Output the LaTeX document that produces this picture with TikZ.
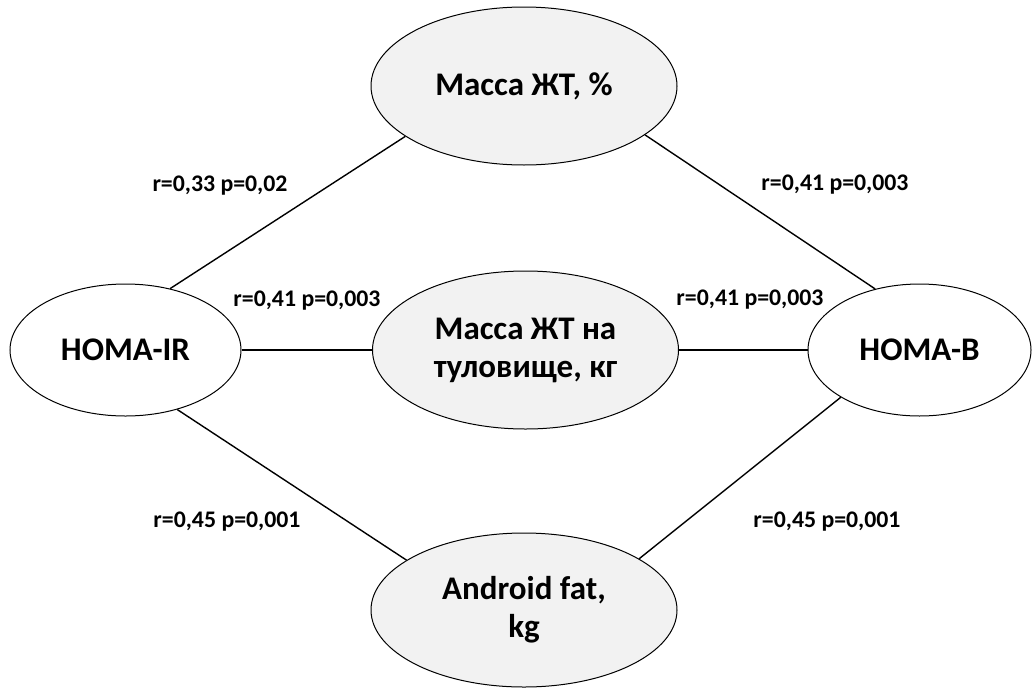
\documentclass[tikz,border=0pt]{standalone}
\usepackage{fontspec}
\setmainfont{Carlito}
\usetikzlibrary{shapes.geometric, positioning}
\definecolor{grisclaro}{HTML}{F2F2F2}
\tikzset{
  indice/.style={ellipse, draw=black, line width=1pt, fill=white, inner sep=0pt, minimum height=132pt, align=center, font=\bfseries\fontsize{33}{38}\selectfont},
  grasa/.style={indice, fill=grisclaro, minimum width=306pt, minimum height=158pt},
  enlace/.style={line width=1.4pt},
  coef/.style={anchor=base, inner sep=0pt, font=\bfseries\fontsize{23.8}{28}\selectfont}
}

\begin{document}
\begin{tikzpicture}[x=1pt, y=-1pt]
            \useasboundingbox (0,0) rectangle (1032,688);

            % Indices a los lados
            \node[indice, minimum width=231pt] (homair) at (125.5, 350) {HOMA-IR};
            \node[indice, minimum width=223pt] (homab) at (919.5, 350) {HOMA-B};

            % Grasa (arriba, centro, abajo)
            \node[grasa] (masa) at (524, 86) {Масса ЖТ, \%};
            \node[grasa] (tronco) at (525.5, 350) {Масса ЖТ на\\туловище, кг};
            \node[grasa, minimum height=154pt] (androide) at (524, 610) {Android fat,\\kg};

            % Enlaces
            \draw[enlace] (homair.54) -- (masa.203);
            \draw[enlace] (masa.338) -- (homab.126);
            \draw[enlace] (homair.east) -- (tronco.west);
            \draw[enlace] (tronco.east) -- (homab.west);
            \draw[enlace] (homair.-49) -- (androide.157);
            \draw[enlace] (androide.24) -- (homab.211);

            % Coeficientes
            \node[coef] (c1) at (220, 191) {r=0,33 p=0,02};
            \node[coef] (c2) at (835, 190) {r=0,41 p=0,003};
            \node[coef] (c3) at (307, 306) {r=0,41 p=0,003};
            \node[coef] (c4) at (750, 305) {r=0,41 p=0,003};
            \node[coef] (c5) at (227, 527) {r=0,45 p=0,001};
            \node[coef] (c6) at (827, 527) {r=0,45 p=0,001};

\end{tikzpicture}
\end{document}
